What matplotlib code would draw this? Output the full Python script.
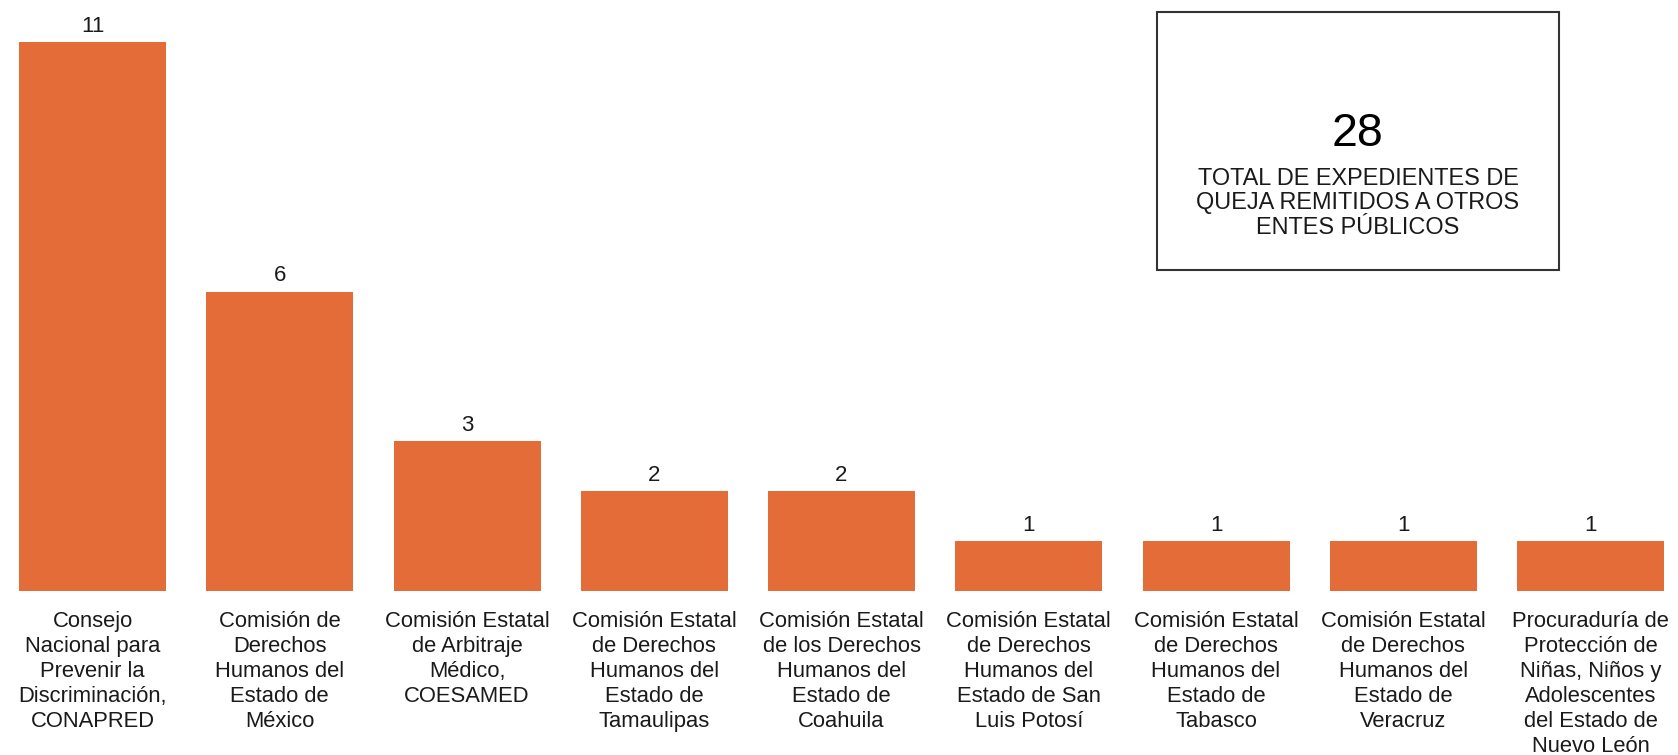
import matplotlib
matplotlib.use("Agg")
import matplotlib.pyplot as plt
from matplotlib.patches import Rectangle

plt.rcParams['font.family'] = ['Liberation Sans', 'DejaVu Sans']

categories = [
    "Consejo\nNacional para\nPrevenir la\nDiscriminación,\nCONAPRED",
    "Comisión de\nDerechos\nHumanos del\nEstado de\nMéxico",
    "Comisión Estatal\nde Arbitraje\nMédico,\nCOESAMED",
    "Comisión Estatal\nde Derechos\nHumanos del\nEstado de\nTamaulipas",
    "Comisión Estatal\nde los Derechos\nHumanos del\nEstado de\nCoahuila",
    "Comisión Estatal\nde Derechos\nHumanos del\nEstado de San\nLuis Potosí",
    "Comisión Estatal\nde Derechos\nHumanos del\nEstado de\nTabasco",
    "Comisión Estatal\nde Derechos\nHumanos del\nEstado de\nVeracruz",
    "Procuraduría de\nProtección de\nNiñas, Niños y\nAdolescentes\ndel Estado de\nNuevo León",
]
values = [11, 6, 3, 2, 2, 1, 1, 1, 1]
total_value = "28"
total_label = "TOTAL DE EXPEDIENTES DE\nQUEJA REMITIDOS A OTROS\nENTES PÚBLICOS"

BAR_COLOR = "#E46C39"
TEXT_COLOR = "#1a1a1a"

W, H = 1678, 755
fig = plt.figure(figsize=(W / 100, H / 100), dpi=100)
ax = fig.add_axes([0, (H - 591) / H, 1, 591 / H])

x = list(range(len(values)))
ax.bar(x, values, width=0.785, color=BAR_COLOR, edgecolor='none')
ax.set_xlim(-0.494, 8.467)
ax.set_ylim(0, 591 / 49.9)
ax.axis('off')

for xi, v, lab in zip(x, values, categories):
    ax.annotate(str(v), xy=(xi, v), xytext=(0, 7.5), textcoords='offset points',
                ha='center', va='baseline', fontsize=16, color=TEXT_COLOR)
    ax.annotate(lab, xy=(xi, 0), xytext=(0, -14.5), textcoords='offset points',
                ha='center', va='top', fontsize=15.8, color=TEXT_COLOR,
                linespacing=1.25, annotation_clip=False)

# Summary box
bx0, bx1, by0, by1 = 1157, 1559, 12, 270
fig.patches.append(Rectangle((bx0 / W, 1 - by1 / H), (bx1 - bx0) / W, (by1 - by0) / H,
                             transform=fig.transFigure, fill=False,
                             edgecolor='#333333', linewidth=1.5))
cx = (bx0 + bx1) / 2 / W
fig.text(cx, 1 - 134 / H, total_value, ha='center', va='center',
         fontsize=33.5, color='black')
fig.text(cx, 1 - 203 / H, total_label, ha='center', va='center',
         fontsize=16.9, color=TEXT_COLOR, linespacing=1.06)

fig.savefig("out.png", dpi=100, facecolor='white')
